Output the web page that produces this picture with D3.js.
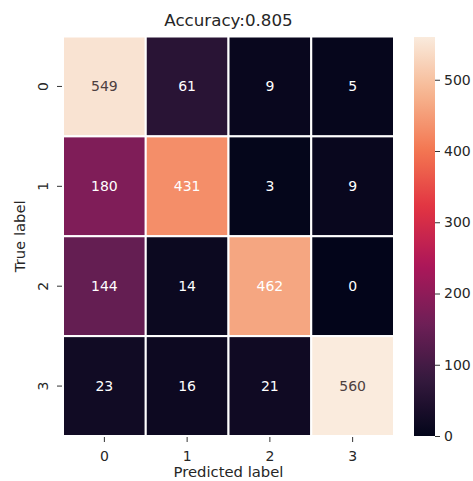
<!DOCTYPE html>
<html>
<head>
<meta charset="utf-8">
<script src="https://cdn.jsdelivr.net/npm/d3@7"></script>
<style>
  body { margin: 0; background: #fff; }
  text { font-family: "DejaVu Sans", sans-serif; fill: #262626; }
  .tick line { stroke: #333; }
</style>
</head>
<body>
<div id="chart"></div>
<script>
// confusion matrix values
var labels = ["0", "1", "2", "3"];
var row0 = [549, 61, 9, 5];
var row1 = [180, 431, 3, 9];
var row2 = [144, 14, 462, 0];
var row3 = [23, 16, 21, 560];
var rows = [row0, row1, row2, row3];
var cbarTicks = [0, 100, 200, 300, 400, 500];
var title = "Accuracy:0.805";

var svgWidth = 473;
var svgHeight = 481;

// heatmap area
var hmLeft = 63, hmRight = 394, hmTop = 36.5, hmBottom = 436;

var svg = d3.select("#chart")
  .append("svg")
  .attr("width", svgWidth)
  .attr("height", svgHeight);

// rocket colormap (seaborn), approximated by a few stops
var rocketStops = ["#03051a", "#35193e", "#701f57", "#ad1759", "#e13342", "#f37651", "#f6b48f", "#faebdd"];
var rocket = d3.scaleLinear()
  .domain(rocketStops.map((d, i) => i / (rocketStops.length - 1)))
  .range(rocketStops)
  .interpolate(d3.interpolateRgb);

var vmin = 0, vmax = 560;
var color = v => rocket((v - vmin) / (vmax - vmin));

var x = d3.scaleBand().domain(labels).range([hmLeft, hmRight]);
var y = d3.scaleBand().domain(labels).range([hmTop, hmBottom]);

// flatten into cells
var cells = [];
rows.forEach((r, i) => r.forEach((v, j) => cells.push({ row: labels[i], col: labels[j], value: v })));

svg.append("g").selectAll("rect")
  .data(cells)
  .enter()
  .append("rect")
  .attr("x", d => x(d.col))
  .attr("y", d => y(d.row))
  .attr("width", x.bandwidth())
  .attr("height", y.bandwidth())
  .attr("fill", d => color(d.value))
  .attr("stroke", "#fff")
  .attr("stroke-width", 2);

// annotations
function lum(c) {
  var rgb = d3.rgb(c);
  var f = v => { v = v / 255; return v <= 0.03928 ? v / 12.92 : Math.pow((v + 0.055) / 1.055, 2.4); };
  return 0.2126 * f(rgb.r) + 0.7152 * f(rgb.g) + 0.0722 * f(rgb.b);
}
svg.append("g").selectAll("text")
  .data(cells)
  .enter()
  .append("text")
  .attr("x", d => x(d.col) + x.bandwidth() / 2)
  .attr("y", d => y(d.row) + y.bandwidth() / 2)
  .attr("text-anchor", "middle")
  .attr("dominant-baseline", "central")
  .attr("font-size", 14)
  .style("fill", d => lum(color(d.value)) > 0.6 ? "#4d4040" : "#fff")
  .text(d => d.value);

// x axis
var xAxis = svg.append("g")
  .attr("transform", `translate(0, ${hmBottom + 1})`)
  .call(d3.axisBottom(x).tickSize(5).tickPadding(9));
xAxis.select(".domain").remove();
xAxis.selectAll("text").attr("font-size", 14).attr("font-family", "DejaVu Sans");

// y axis with rotated labels
var yAxis = svg.append("g")
  .attr("transform", `translate(${hmLeft - 1}, 0)`)
  .call(d3.axisLeft(y).tickSize(5));
yAxis.select(".domain").remove();
yAxis.selectAll("text")
  .attr("x", 0)
  .attr("dy", 0)
  .attr("text-anchor", "middle")
  .attr("transform", "translate(-14, 0) rotate(-90)")
  .attr("font-size", 14)
  .attr("font-family", "DejaVu Sans");

// colorbar
var cbX = 414, cbW = 21, cbTop = 37, cbBottom = 436;
var cScale = d3.scaleLinear().domain([vmin, vmax]).range([cbBottom, cbTop]);

var grad = svg.append("defs").append("linearGradient")
  .attr("id", "cbar")
  .attr("x1", 0).attr("y1", 1).attr("x2", 0).attr("y2", 0);
d3.range(0, 1.0001, 0.02).forEach(t => {
  grad.append("stop").attr("offset", t).attr("stop-color", rocket(t));
});
svg.append("rect")
  .attr("x", cbX)
  .attr("y", cbTop)
  .attr("width", cbW)
  .attr("height", cbBottom - cbTop)
  .attr("fill", "url(#cbar)");

var cAxis = svg.append("g")
  .attr("transform", `translate(${cbX + cbW}, 0)`)
  .call(d3.axisRight(cScale).tickValues(cbarTicks).tickSize(5).tickPadding(4));
cAxis.select(".domain").remove();
cAxis.selectAll("text").attr("font-size", 14).attr("font-family", "DejaVu Sans");

// title and labels
svg.append("text")
  .attr("x", (hmLeft + hmRight) / 2)
  .attr("y", 25.5)
  .attr("text-anchor", "middle")
  .attr("font-size", 16.7)
  .text(title);

svg.append("text")
  .attr("x", (hmLeft + hmRight) / 2)
  .attr("y", 477)
  .attr("text-anchor", "middle")
  .attr("font-size", 14.8)
  .text("Predicted label");

svg.append("text")
  .attr("transform", `translate(25, ${(hmTop + hmBottom) / 2}) rotate(-90)`)
  .attr("text-anchor", "middle")
  .attr("font-size", 14.8)
  .text("True label");
</script>
</body>
</html>
